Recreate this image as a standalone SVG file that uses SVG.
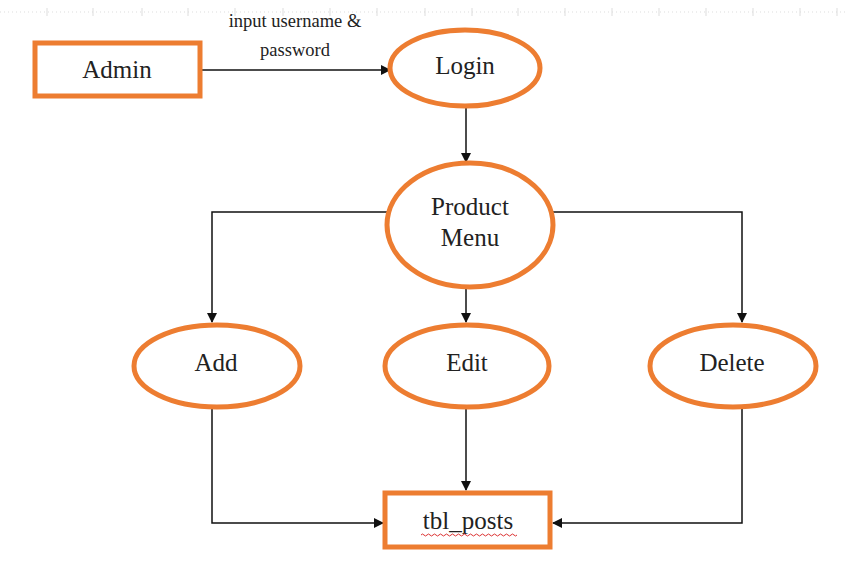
<svg xmlns="http://www.w3.org/2000/svg" width="845" height="574" viewBox="0 0 845 574">
<style>
.n{fill:#fff;stroke:#ED7D31;stroke-width:5}
.t{font-family:"Liberation Serif","DejaVu Serif","Times New Roman",serif;font-size:25px;fill:#222;text-anchor:middle}
.l{font-family:"Liberation Serif","DejaVu Serif","Times New Roman",serif;font-size:18.5px;fill:#222;text-anchor:middle}
.c{fill:none;stroke:#111;stroke-width:1.5}
.r{stroke:#ddd;stroke-width:1}
</style>
<defs>
<marker id="ah" markerWidth="10" markerHeight="10" refX="9" refY="5" orient="auto" markerUnits="userSpaceOnUse">
<path d="M0,0 L10,5 L0,10 z" fill="#111"/>
</marker>
</defs>
<rect width="845" height="574" fill="#fff"/>
<g id="ruler">
<line class="r" x1="0" y1="12" x2="845" y2="12" stroke-dasharray="1 3"/>
<path class="r" d="M47,8v8M93,8v8M142,8v8M188,8v8M235,8v8M283,8v8M330,8v8M377,8v8M425,8v8M472,8v8M518,8v8M565,8v8M612,8v8M659,8v8M706,8v8M753,8v8M800,8v8M837,8v8"/>
</g>
<g id="connectors">
<line class="c" x1="201" y1="70" x2="390" y2="70" marker-end="url(#ah)"/>
<text class="l" x="295" y="27">input username &amp;</text>
<text class="l" x="295" y="56">password</text>
<line class="c" x1="466" y1="107" x2="466" y2="162" marker-end="url(#ah)"/>
<polyline class="c" points="387,212 212,212 212,322" marker-end="url(#ah)"/>
<polyline class="c" points="553,212 742,212 742,322" marker-end="url(#ah)"/>
<line class="c" x1="466" y1="288" x2="466" y2="322" marker-end="url(#ah)"/>
<polyline class="c" points="212,408 212,523 383,523" marker-end="url(#ah)"/>
<line class="c" x1="466" y1="408" x2="466" y2="490" marker-end="url(#ah)"/>
<polyline class="c" points="742,408 742,523 553,523" marker-end="url(#ah)"/>
</g>
<g id="admin">
<rect class="n" x="35" y="43" width="165" height="53"/>
<text class="t" x="117" y="78">Admin</text>
</g>
<g id="login">
<ellipse class="n" cx="465" cy="68" rx="75" ry="38"/>
<text class="t" x="465" y="74">Login</text>
</g>
<g id="product-menu">
<ellipse class="n" cx="470" cy="225" rx="83" ry="62"/>
<text class="t" x="470" y="215">Product</text>
<text class="t" x="470" y="246">Menu</text>
</g>
<g id="add">
<ellipse class="n" cx="217" cy="366" rx="83" ry="41"/>
<text class="t" x="216" y="371">Add</text>
</g>
<g id="edit">
<ellipse class="n" cx="467" cy="366" rx="82" ry="41"/>
<text class="t" x="467" y="371">Edit</text>
</g>
<g id="delete">
<ellipse class="n" cx="733" cy="366" rx="83" ry="41"/>
<text class="t" x="732" y="371">Delete</text>
</g>
<g id="tbl-posts">
<rect class="n" x="385" y="493" width="165" height="54"/>
<text class="t" x="468" y="529">tbl_posts</text>
<path d="M421,535 q1.5,-2 3,0 t3,0 t3,0 t3,0 t3,0 t3,0 t3,0 t3,0 t3,0 t3,0 t3,0 t3,0 t3,0 t3,0 t3,0 t3,0 t3,0 t3,0 t3,0 t3,0 t3,0 t3,0 t3,0 t3,0 t3,0 t3,0 t3,0 t3,0 t3,0 t3,0 t3,0 t3,0" fill="none" stroke="#d33" stroke-width="1"/>
</g>
</svg>
